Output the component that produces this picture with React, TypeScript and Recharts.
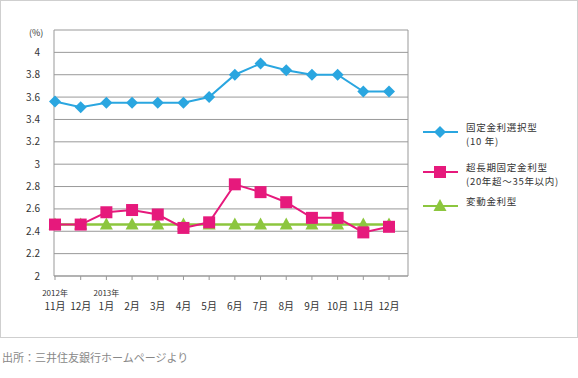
import React from "react";
import {
  LineChart,
  Line,
  XAxis,
  YAxis,
  CartesianGrid,
} from "recharts";

const months = ["11月", "12月", "1月", "2月", "3月", "4月", "5月", "6月", "7月", "8月", "9月", "10月", "11月", "12月"];
const years = ["2012年", "", "2013年", "", "", "", "", "", "", "", "", "", "", ""];
const fixedRate = [3.56, 3.51, 3.55, 3.55, 3.55, 3.55, 3.6, 3.8, 3.9, 3.84, 3.8, 3.8, 3.65, 3.65];
const longFixed = [2.46, 2.46, 2.57, 2.59, 2.55, 2.43, 2.48, 2.82, 2.75, 2.66, 2.52, 2.52, 2.39, 2.44];
const variable = [2.46, 2.46, 2.46, 2.46, 2.46, 2.46, 2.46, 2.46, 2.46, 2.46, 2.46, 2.46, 2.46, 2.46];
const yTicks = [2, 2.2, 2.4, 2.6, 2.8, 3, 3.2, 3.4, 3.6, 3.8, 4, 4.2];

const BLUE = "#2aa6e0";
const PINK = "#e6197c";
const GREEN = "#8cc63e";
const FONT = "'Noto Sans CJK JP', 'Noto Sans', sans-serif";

const data = months.map((m, i) => ({
  key: i,
  month: m,
  year: years[i],
  fixed: fixedRate[i],
  longFixed: longFixed[i],
  variable: variable[i],
}));

const Diamond = ({ cx, cy, color }: any) => (
  <path d={`M${cx},${cy - 6} L${cx + 6},${cy} L${cx},${cy + 6} L${cx - 6},${cy} Z`} fill={color} />
);
const Square = ({ cx, cy, color }: any) => (
  <rect x={cx - 6} y={cy - 6} width={12} height={12} fill={color} />
);
const Triangle = ({ cx, cy, color }: any) => (
  <path d={`M${cx},${cy - 7} L${cx + 6.5},${cy + 5} L${cx - 6.5},${cy + 5} Z`} fill={color} />
);

const MonthTick = ({ x, y, payload }: any) => {
  const d = data[payload.index];
  return (
    <g transform={`translate(${x},${y})`}>
      {d.year && (
        <text x={0} y={14} textAnchor="middle" fontSize={8} fill="#333" fontFamily={FONT}>
          {d.year}
        </text>
      )}
      <text x={0} y={28} textAnchor="middle" fontSize={10} fill="#333" fontFamily={FONT}>
        {d.month}
      </text>
    </g>
  );
};

const legendItems = [
  { color: BLUE, Shape: Diamond, lines: ["固定金利選択型", "(10 年)"], top: 120 },
  { color: PINK, Shape: Square, lines: ["超長期固定金利型", "(20年超〜35年以内)"], top: 160 },
  { color: GREEN, Shape: Triangle, lines: ["変動金利型"], top: 194 },
];

export default function App() {
  return (
    <div style={{ position: "absolute", left: 0, top: 0, width: 578, height: 378, fontFamily: FONT, background: "#fff" }}>
      <div
        style={{
          position: "absolute",
          left: 0,
          top: 0,
          width: 576,
          height: 336,
          border: "1px solid #cfcfcf",
        }}
      />
      <div style={{ position: "absolute", left: 0, top: 0 }}>
        <LineChart
          width={578}
          height={338}
          data={data}
          margin={{ top: 30, right: 170, left: 0, bottom: 22 }}
        >
          <CartesianGrid
            stroke="#999"
            horizontal
            vertical
            verticalCoordinatesGenerator={({ offset }: any) => [offset.left + offset.width]}
          />
          <XAxis
            dataKey="key"
            interval={0}
            padding={{ left: 1, right: 19 }}
            tick={<MonthTick />}
            tickSize={4}
            tickLine={{ stroke: "#999" }}
            axisLine={{ stroke: "#999" }}
            height={40}
          />
          <YAxis
            domain={[2, 4.2]}
            ticks={yTicks}
            interval={0}
            width={54}
            tickSize={0}
            tickMargin={14}
            axisLine={{ stroke: "#999" }}
            tickLine={false}
            tick={{ fontSize: 10, fill: "#333", fontFamily: FONT }}
            tickFormatter={(v: number) => (Math.abs(v - 4.2) < 0.001 ? "" : String(v))}
          />
          <Line
            dataKey="variable"
            stroke={GREEN}
            strokeWidth={2.5}
            isAnimationActive={false}
            dot={(p: any) => <Triangle key={`v${p.index}`} cx={p.cx} cy={p.cy} color={GREEN} />}
            activeDot={false}
          />
          <Line
            dataKey="longFixed"
            stroke={PINK}
            strokeWidth={2}
            isAnimationActive={false}
            dot={(p: any) => <Square key={`l${p.index}`} cx={p.cx} cy={p.cy} color={PINK} />}
            activeDot={false}
          />
          <Line
            dataKey="fixed"
            stroke={BLUE}
            strokeWidth={2}
            isAnimationActive={false}
            dot={(p: any) => <Diamond key={`f${p.index}`} cx={p.cx} cy={p.cy} color={BLUE} />}
            activeDot={false}
          />
        </LineChart>
      </div>
      <div style={{ position: "absolute", left: 29, top: 26, fontSize: 9, color: "#333" }}>(%)</div>
      {legendItems.map((it) => (
        <div key={it.top} style={{ position: "absolute", left: 423, top: it.top, display: "flex", whiteSpace: "nowrap" }}>
          <svg width={36} height={24} style={{ flex: "none" }}>
            <line x1={0} x2={35} y1={12} y2={12} stroke={it.color} strokeWidth={2} />
            <it.Shape cx={17} cy={12} color={it.color} />
          </svg>
          <div style={{ marginLeft: 7, paddingTop: 1, fontSize: 9.5, lineHeight: "13.5px", color: "#333", letterSpacing: 0.7 }}>
            {it.lines.map((l) => (
              <div key={l}>{l}</div>
            ))}
          </div>
        </div>
      ))}
      <div style={{ position: "absolute", left: 2, top: 349, fontSize: 11, color: "#888" }}>
        出所：三井住友銀行ホームページより
      </div>
    </div>
  );
}
